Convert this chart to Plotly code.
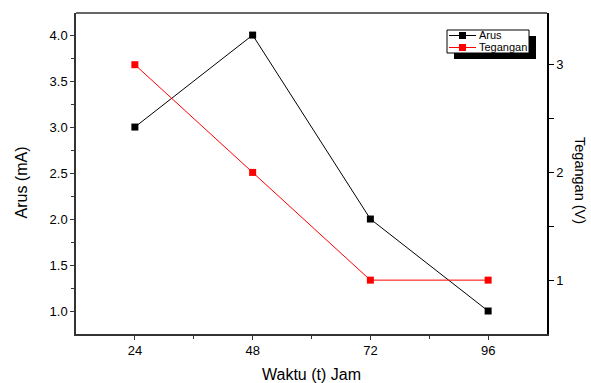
import plotly.graph_objects as go

waktu = [24, 48, 72, 96]
arus = [3.0, 4.0, 2.0, 1.0]
tegangan = [3, 2, 1, 1]
series_names = ["Arus", "Tegangan"]
series_colors = ["black", "#ff0000"]

x_ticks = [24, 48, 72, 96]
y1_ticks = [1.0, 1.5, 2.0, 2.5, 3.0, 3.5, 4.0]
y2_ticks = [1, 2, 3]

W, H = 591, 383
ML, MR, MT, MB = 76, 44, 13, 49
PW, PH = W - ML - MR, H - MT - MB


def px(x):
    return (x - ML) / PW


def py(y):
    return (H - MB - y) / PH


fig = go.Figure()
fig.add_trace(go.Scatter(x=waktu, y=arus, name=series_names[0], mode="lines+markers",
                         line=dict(color=series_colors[0], width=1),
                         marker=dict(symbol="square", size=7, color=series_colors[0])))
fig.add_trace(go.Scatter(x=waktu, y=tegangan, name=series_names[1], mode="lines+markers",
                         yaxis="y2",
                         line=dict(color=series_colors[1], width=1),
                         marker=dict(symbol="square", size=7, color=series_colors[1])))

font = "Liberation Sans, Arial, sans-serif"
axcol = "#333"
fig.update_layout(
    width=W, height=H,
    margin=dict(l=ML, r=MR, t=MT, b=MB),
    paper_bgcolor="white", plot_bgcolor="white",
    font=dict(family=font, color="black", size=13),
    showlegend=False,
    xaxis=dict(range=[12, 108], tickvals=x_ticks, ticks="outside", ticklen=4,
               tickcolor=axcol, linecolor=axcol, linewidth=1.5, showgrid=False,
               zeroline=False, automargin=False, tickfont=dict(size=13),
               minor=dict(tickvals=[36, 60, 84], ticks="outside", ticklen=3, tickcolor=axcol),
               title=dict(text="Waktu (t) Jam", font=dict(size=16), standoff=11)),
    yaxis=dict(range=[0.75, 4.24], tickvals=y1_ticks, ticktext=[f"{v:.1f}" for v in y1_ticks],
               ticks="outside", ticklen=4, tickcolor=axcol, linecolor=axcol, linewidth=1.5,
               showgrid=False, zeroline=False, automargin=False, tickfont=dict(size=13),
               minor=dict(tickvals=[1.25, 1.75, 2.25, 2.75, 3.25, 3.75], ticks="outside",
                          ticklen=3, tickcolor=axcol)),
    yaxis2=dict(range=[0.5, 3.48], tickvals=y2_ticks, overlaying="y", side="right",
                ticks="outside", ticklen=5, tickcolor="black", linecolor="black", linewidth=1.5,
                showgrid=False, zeroline=False, automargin=False, tickfont=dict(size=13),
                minor=dict(tickvals=[1.5, 2.5], ticks="outside", ticklen=5, tickcolor="black")),
)
# top border
fig.add_shape(type="line", xref="paper", yref="paper", x0=0, x1=1, y0=1, y1=1,
              line=dict(color=axcol, width=1.5))
# left axis title
fig.add_annotation(text="Arus (mA)", xref="paper", yref="paper", x=px(10), y=py(183),
                   xanchor="left", yanchor="middle", textangle=-90, showarrow=False,
                   font=dict(size=16, family=font))
# right axis title, reading top to bottom
fig.add_annotation(text="Tegangan (V)", xref="paper", yref="paper", x=px(590), y=py(180),
                   xanchor="right", yanchor="middle", textangle=90, showarrow=False,
                   font=dict(size=14.5, family=font))

# legend box with drop shadow (OriginPro style)
bx0, bx1, by0, by1 = 447, 529, 30, 53
fig.add_shape(type="rect", xref="paper", yref="paper",
              x0=px(bx0 + 7), x1=px(bx1 + 7), y0=py(by1 + 6), y1=py(by0 + 6),
              fillcolor="black", line=dict(width=0), layer="above")
fig.add_shape(type="rect", xref="paper", yref="paper",
              x0=px(bx0), x1=px(bx1), y0=py(by1), y1=py(by0),
              fillcolor="white", line=dict(color="black", width=1), layer="above")
rows = [35.5, 47.5]
for name, col, ry in zip(series_names, series_colors, rows):
    fig.add_shape(type="line", xref="paper", yref="paper",
                  x0=px(449), x1=px(476), y0=py(ry), y1=py(ry),
                  line=dict(color=col, width=1), layer="above")
    fig.add_shape(type="rect", xref="paper", yref="paper",
                  x0=px(459), x1=px(466), y0=py(ry + 3.5), y1=py(ry - 3.5),
                  fillcolor=col, line=dict(width=0), layer="above")
    fig.add_annotation(text=name, xref="paper", yref="paper", x=px(477), y=py(ry),
                       xanchor="left", yanchor="middle", showarrow=False,
                       font=dict(size=11, family=font, color="black"))

fig.write_html("out.html", config={"displayModeBar": False},
               post_script="document.body.style.margin='0';document.body.style.overflow='hidden';")
